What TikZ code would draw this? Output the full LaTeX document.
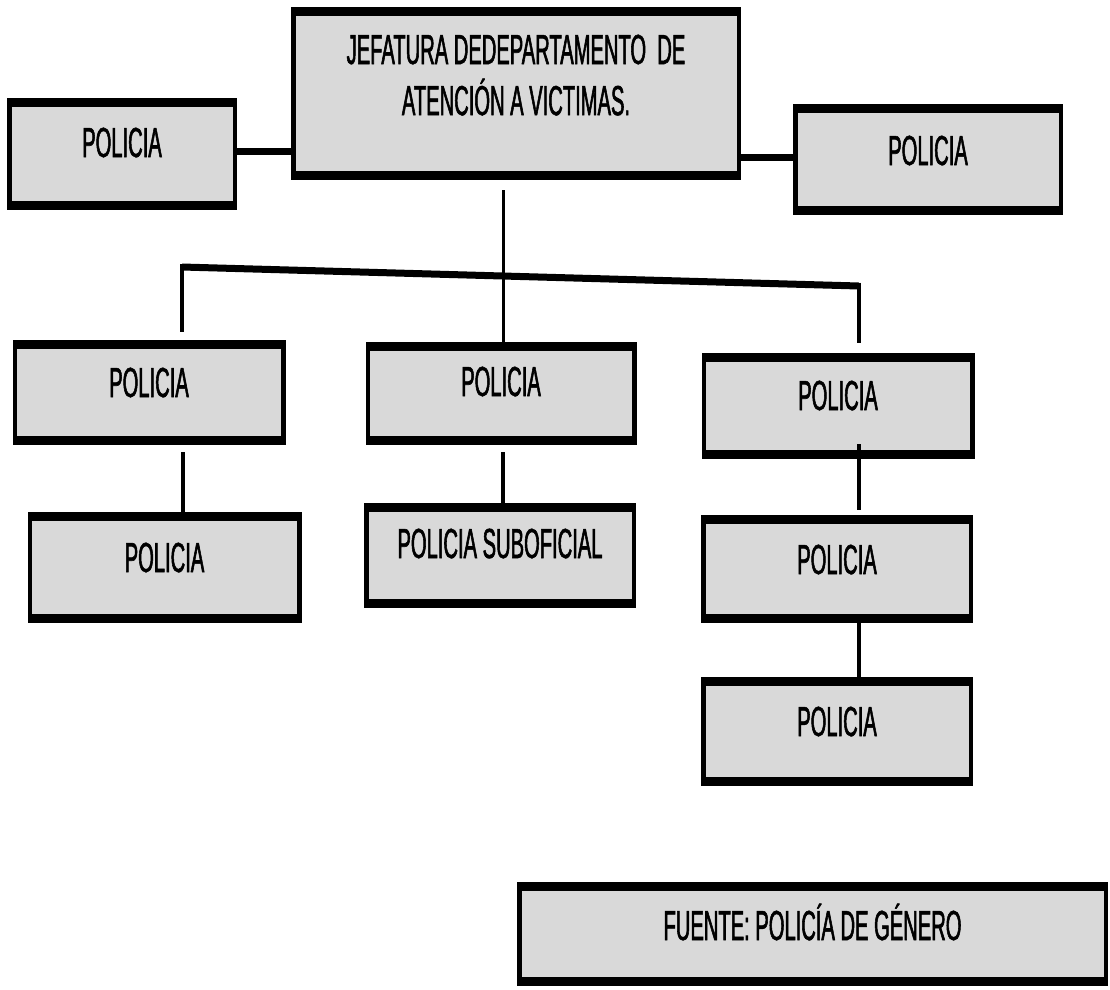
\documentclass[tikz,border=0pt]{standalone}
\usepackage{fontspec}
\setmainfont{Liberation Sans}[FakeStretch=0.48,FakeBold=1.3]
\definecolor{boxgray}{HTML}{D9D9D9}
\newcommand{\bxtext}[2]{\raisebox{#1}[0pt][0pt]{#2}}
\begin{document}
\begin{tikzpicture}[x=1pt,y=-1pt,
  orgbox/.style={rectangle, fill=black, inner sep=0pt, outer sep=0pt,
    font=\fontsize{42}{49}\selectfont,
    path picture={\fill[boxgray] ([xshift=4.5pt,yshift=9pt]path picture bounding box.south west)
      rectangle ([xshift=-4.5pt,yshift=-9pt]path picture bounding box.north east);}},
  thickline/.style={line width=7pt, black},
  thinline/.style={line width=3.8pt, black}]
\useasboundingbox[fill=white] (0,0) rectangle (1110,989);

% boxes
\node[orgbox, minimum width=450pt, minimum height=173pt] (top) at (516,93.5)
  {\bxtext{29.5pt}{\begin{tabular}[t]{@{}c@{}}JEFATURA DEDEPARTAMENTO\ \ DE\\ATENCIÓN A VICTIMAS.\end{tabular}}};
\node[orgbox, minimum width=230pt, minimum height=112pt] (tl) at (122,154) {\bxtext{-3pt}{POLICIA}};
\node[orgbox, minimum width=270pt, minimum height=111pt] (tr) at (928,159.5) {\bxtext{-5.5pt}{POLICIA}};

\node[orgbox, minimum width=273pt, minimum height=105pt] (r2l) at (149,392.5) {\bxtext{-4.5pt}{POLICIA}};
\node[orgbox, minimum width=271pt, minimum height=103pt] (r2m) at (501,393.5) {\bxtext{-2.5pt}{POLICIA}};
\node[orgbox, minimum width=273pt, minimum height=106pt] (r2r) at (838,406) {\bxtext{-4pt}{POLICIA}};

\node[orgbox, minimum width=274pt, minimum height=111pt] (r3l) at (164.5,567.5) {\bxtext{-4.5pt}{POLICIA}};
\node[orgbox, minimum width=272pt, minimum height=105pt] (r3m) at (500,555.5) {\bxtext{-2.5pt}{POLICIA SUBOFICIAL}};
\node[orgbox, minimum width=272pt, minimum height=108pt] (r3r) at (837,569) {\bxtext{-5pt}{POLICIA}};
\node[orgbox, minimum width=272pt, minimum height=109pt] (r4r) at (837,731.5) {\bxtext{-4.5pt}{POLICIA}};

\node[orgbox, minimum width=591pt, minimum height=104pt] (fuente) at (812.5,934) {\bxtext{-6pt}{FUENTE: POLICÍA DE GÉNERO}};

% side connectors
\draw[thickline] (tl.east |- 0,151) -- (top.west |- 0,151);
\draw[thickline] (top.east |- 0,157) -- (tr.west |- 0,157);

% central trunk
\coordinate (vtop) at (503.5,190);
\draw[thinline] (vtop) -- (vtop |- r2m.north);

% horizontal bar and drops
\coordinate (hl) at (182,267);
\coordinate (hr) at (859,286);
\draw[thickline] (hl) -- (hr);
\coordinate (dl) at (182,332);
\coordinate (dr) at (859,343);
\draw[thinline] ([yshift=3.5pt]hl) -- (dl);
\draw[thinline] ([yshift=3.5pt]hr) -- (dr);

% lower connectors
\coordinate (l2) at (183,452);
\draw[thinline] (l2) -- (l2 |- r3l.north);
\coordinate (m2) at (503,452);
\draw[thinline] (m2) -- (m2 |- r3m.north);
\coordinate (rr2) at (859,444);
\coordinate (rr3) at (859,510);
\draw[thinline] (rr2) -- (rr3);
\draw[thinline] (r3r.south -| rr3) -- (r4r.north -| rr3);
\end{tikzpicture}
\end{document}
